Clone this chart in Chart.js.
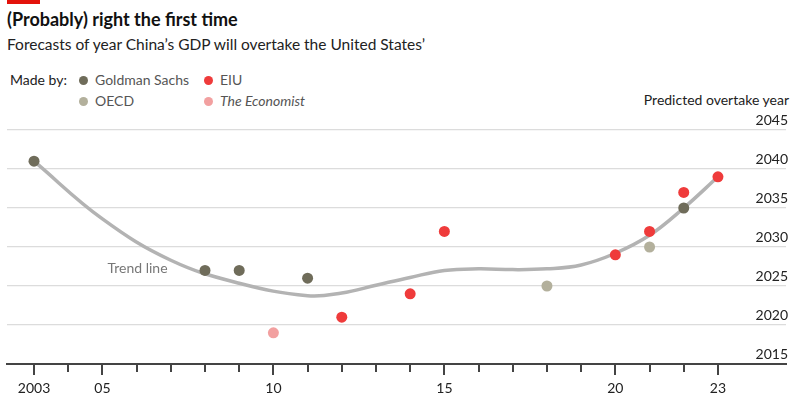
<!DOCTYPE html>
<html>
<head>
<meta charset="utf-8">
<script src="https://cdn.jsdelivr.net/npm/chart.js@4/dist/chart.umd.min.js"></script>
<style>
    body { margin: 0; width: 810px; height: 403px; background: #fff; font-family: Lato, sans-serif; position: relative; overflow: hidden; }
    .bar { position: absolute; left: 7px; top: 0; width: 33px; height: 4px; background: #e3120b; }
    .title { position: absolute; left: 7px; top: 8px; font-size: 18px; font-weight: bold; color: #111; }
    .sub { position: absolute; left: 7px; top: 35px; font-size: 15.5px; color: #222; }
    .lg { position: absolute; font-size: 14px; color: #555; white-space: nowrap; }
    .lg i.dot { display: inline-block; width: 9px; height: 9px; border-radius: 50%; margin-right: 7px; vertical-align: -0px; }
    .ylab { position: absolute; right: 21px; top: 91px; font-size: 14px; color: #222; }
    canvas { position: absolute; left: 0; top: 0; }
</style>
</head>
<body>
<div class="bar"></div>
<div class="title">(Probably) right the first time</div>
<div class="sub">Forecasts of year China’s GDP will overtake the United States’</div>
<div class="lg" style="left:10px;top:71px;color:#222">Made by:</div>
<div class="lg" style="left:79px;top:71px"><i class="dot" style="background:#6f6c5a"></i>Goldman Sachs</div>
<div class="lg" style="left:204px;top:71px"><i class="dot" style="background:#ef3b3b"></i>EIU</div>
<div class="lg" style="left:79px;top:92px"><i class="dot" style="background:#b3b09c"></i>OECD</div>
<div class="lg" style="left:204px;top:92px"><i class="dot" style="background:#f2a0a0"></i><em>The Economist</em></div>
<div class="ylab">Predicted overtake year</div>
<canvas id="chart" width="810" height="403"></canvas>
<script>
// Year the forecast was made -> predicted year China overtakes US
const goldmanYears = [2003, 2008, 2009, 2011, 2022];
const goldmanForecast = [2041, 2027, 2027, 2026, 2035];
const eiuYears = [2012, 2014, 2015, 2020, 2021, 2022, 2023];
const eiuForecast = [2021, 2024, 2032, 2029, 2032, 2037, 2039];
const oecdYears = [2018, 2021];
const oecdForecast = [2025, 2030];
const economistYears = [2010];
const economistForecast = [2019];
const trendYears = [2003, 2005, 2007, 2009, 2011, 2012, 2013, 2014, 2015, 2016, 2017, 2018, 2019, 2020, 2021, 2022, 2023];
const trendForecast = [2041, 2033.6, 2028.3, 2025.35, 2023.75, 2024.1, 2025.1, 2026.1, 2027, 2027.2, 2027.1, 2027.2, 2027.7, 2029.2, 2031.5, 2035, 2039];
const majorTicks = [2003, 2005, 2010, 2015, 2020, 2023];
const tickLabels = ['2003', '05', '10', '15', '20', '23'];
const yTicks = [2015, 2020, 2025, 2030, 2035, 2040, 2045];

const toPoints = (xs, ys) => xs.map((x, i) => ({ x: x, y: ys[i] }));

const dotSet = (label, xs, ys, color) => ({
    label: label,
    data: toPoints(xs, ys),
    backgroundColor: color,
    borderWidth: 0,
    pointRadius: 5.5,
    order: 1
});

// minor ticks + "Trend line" note
const extras = {
    id: 'extras',
    afterDraw(chart) {
        const ctx = chart.ctx;
        const x = chart.scales.x;
        const y = chart.scales.y;
        const base = chart.chartArea.bottom;
        ctx.save();
        ctx.strokeStyle = '#444';
        ctx.lineWidth = 2;
        for (let yr = 2003; yr <= 2023; yr++) {
            const len = majorTicks.includes(yr) ? 11 : 8;
            const px = Math.round(x.getPixelForValue(yr));
            ctx.beginPath();
            ctx.moveTo(px, base);
            ctx.lineTo(px, base + len);
            ctx.stroke();
        }
        ctx.fillStyle = '#777';
        ctx.font = '14px Lato';
        ctx.textBaseline = 'middle';
        ctx.textAlign = 'left';
        ctx.fillText('Trend line', x.getPixelForValue(2005.15), y.getPixelForValue(2027.3));
        ctx.restore();
    }
};

new Chart(document.getElementById('chart'), {
    type: 'scatter',
    data: {
        datasets: [
            dotSet('Goldman Sachs', goldmanYears, goldmanForecast, '#6f6c5a'),
            dotSet('EIU', eiuYears, eiuForecast, '#ef3b3b'),
            dotSet('OECD', oecdYears, oecdForecast, '#b3b09c'),
            dotSet('The Economist', economistYears, economistForecast, '#f2a0a0'),
            {
                label: 'Trend line',
                data: toPoints(trendYears, trendForecast),
                showLine: true,
                borderColor: '#b3b3b3',
                borderWidth: 3.5,
                tension: 0.4,
                pointRadius: 0,
                order: 10
            }
        ]
    },
    options: {
        responsive: false,
        animation: false,
        layout: { padding: { left: 7, right: 20, top: 130, bottom: 0 } },
        plugins: { legend: { display: false }, tooltip: { enabled: false } },
        scales: {
            x: {
                type: 'linear',
                min: 2002.21,
                max: 2024.99,
                afterBuildTicks: axis => { axis.ticks = majorTicks.map(v => ({ value: v })); },
                afterFit: axis => { axis.height = 39; },
                grid: { display: false, drawTicks: false },
                border: { display: true, color: '#444', width: 2 },
                ticks: {
                    padding: 16,
                    color: '#222',
                    font: { family: 'Lato', size: 14 },
                    maxRotation: 0,
                    autoSkip: false,
                    callback: v => tickLabels[majorTicks.indexOf(v)]
                }
            },
            y: {
                position: 'right',
                min: 2015,
                max: 2045,
                afterBuildTicks: axis => { axis.ticks = yTicks.map(v => ({ value: v })); },
                grid: { color: '#dcdcdc', lineWidth: 1.2, drawTicks: false },
                border: { display: false },
                ticks: {
                    mirror: true,
                    padding: 2,
                    labelOffset: -10,
                    color: '#222',
                    font: { family: 'Lato', size: 14 },
                    callback: v => String(v)
                }
            }
        }
    },
    plugins: [extras]
});
</script>
</body>
</html>
